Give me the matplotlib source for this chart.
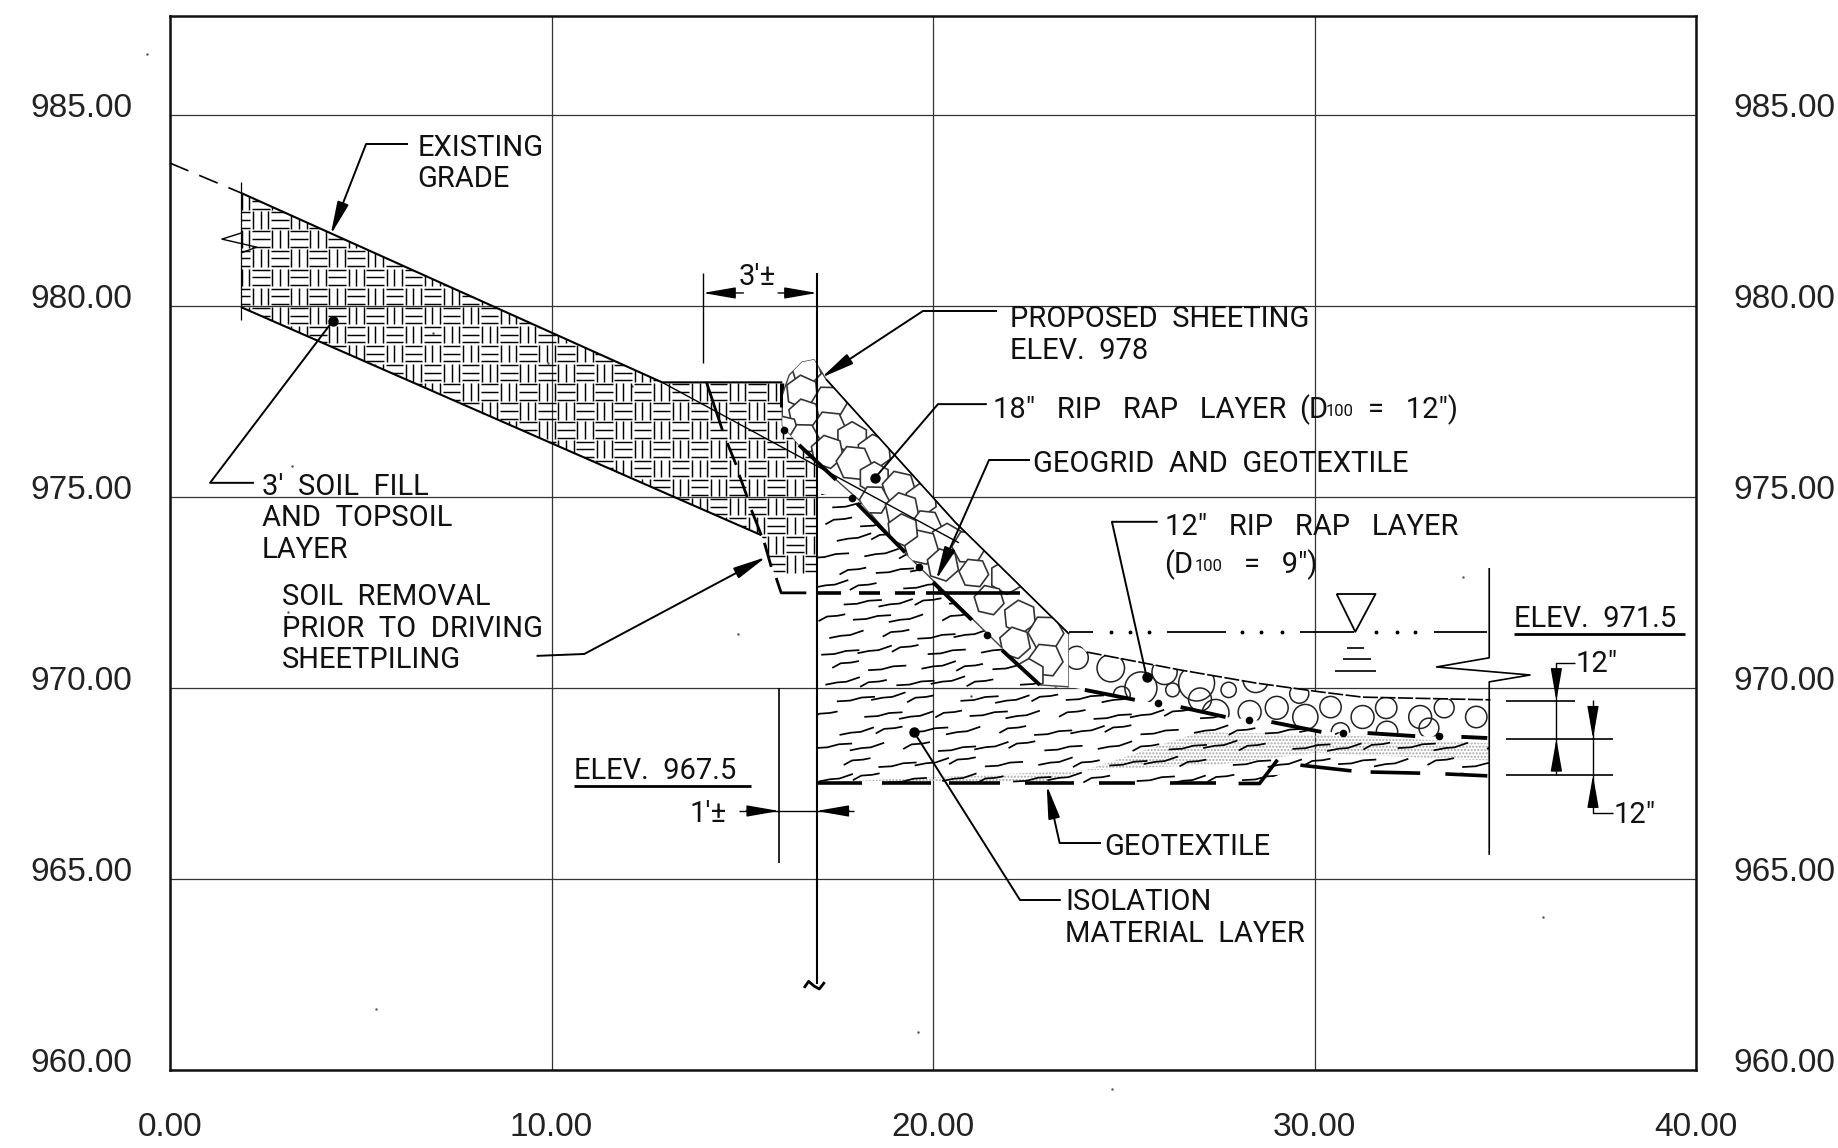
import matplotlib
matplotlib.use("Agg")
import matplotlib.pyplot as plt
from matplotlib.collections import LineCollection
from matplotlib.patches import Circle, Polygon, RegularPolygon
from matplotlib.transforms import ScaledTranslation

x_ticks = [0, 10, 20, 30, 40]
y_ticks = [960, 965, 970, 975, 980, 985]
x_tick_labels = ["0.00", "10.00", "20.00", "30.00", "40.00"]
y_tick_labels = ["960.00", "965.00", "970.00", "975.00", "980.00", "985.00"]

# section geometry, feet / elevation
grade_dash_x = [0, 1.86]
grade_dash_y = [983.74, 982.96]
grade_x = [1.86, 12.9, 16.05]
grade_y = [982.96, 978.0, 978.0]
grade_under_x = [12.9, 20.68]
grade_under_y = [978.0, 973.8]
fill_base_x = [1.86, 15.5]
fill_base_y = [979.97, 974.0]
fill_x = [1.86, 12.9, 16.96, 16.96, 16.0, 15.58, 15.5, 1.86]
fill_y = [982.96, 978.0, 978.0, 972.5, 972.5, 973.8, 974.0, 979.97]
break_left_x = [1.87, 1.36, 2.27, 1.87]
break_left_y = [981.91, 981.75, 981.54, 981.39]
fill_edge_x = [1.86, 1.86]
fill_edge_y = [983.25, 979.63]
stub_x = [16.02, 16.02]
stub_y = [977.98, 977.36]

removal_dashes = [
    ([14.06, 14.48], [978.01, 976.75]),
    ([14.61, 14.84], [976.41, 975.84]),
    ([14.92, 15.13], [975.58, 975.0]),
    ([15.24, 15.50], [974.66, 974.0]),
    ([15.58, 15.76], [973.80, 973.17]),
    ([15.89, 16.02, 16.68], [972.88, 972.49, 972.49]),
]

rock18_x = [17.2, 20.6, 23.56, 23.56, 22.80, 19.19, 18.06, 17.46, 16.49, 16.05, 16.05, 16.23, 16.57, 16.88]
rock18_y = [978.08, 974.32, 971.42, 970.03, 970.08, 973.61, 974.92, 975.45, 976.36, 976.88, 977.67, 978.19, 978.53, 978.59]
rock18_cx = [16.68, 16.57, 17.28, 16.62, 17.28, 17.88, 16.10, 18.46, 16.62, 17.23, 17.93, 18.46, 19.11, 19.69,
             18.46, 19.19, 19.82, 20.37, 19.69, 19.21, 20.94, 20.26, 21.07, 21.94, 21.47, 22.28, 22.96, 22.15,
             22.96, 22.51]
rock18_cy = [978.32, 977.75, 977.46, 977.15, 976.81, 976.54, 976.75, 976.18, 976.54, 976.18, 975.89, 975.50,
             975.24, 974.92, 974.92, 974.66, 974.27, 973.87, 973.69, 974.14, 973.69, 973.22, 973.01, 972.91,
             972.30, 971.86, 971.44, 971.18, 970.73, 970.34]
rock18_r = [0.40, 0.44, 0.47, 0.42, 0.45, 0.43, 0.39, 0.46]
rock18_turn = [0.3, 0.1, 0.5, 0.2, 0.42, 0.0]
rock18_dashes = [
    ([16.49, 17.46], [976.36, 975.45]),
    ([18.01, 19.27], [974.83, 973.55]),
    ([20.0, 21.02], [972.77, 971.78]),
    ([21.81, 22.80], [970.99, 970.08]),
]

rock12_top_x = [23.56, 24.03, 26.49, 28.46, 30.13, 31.26, 34.61]
rock12_top_y = [971.42, 970.94, 970.47, 970.13, 969.90, 969.76, 969.69]
rock12_low_x = [34.58, 33.85, 32.64, 31.39, 30.18, 28.87, 27.67, 26.49, 25.29, 23.98, 23.56]
rock12_low_y = [968.69, 968.72, 968.74, 968.82, 968.85, 969.11, 969.24, 969.50, 969.69, 969.95, 970.03]
rock12_dashes = [
    ([23.98, 25.29], [969.95, 969.69]),
    ([26.49, 27.67], [969.50, 969.24]),
    ([28.87, 30.18], [969.11, 968.85]),
    ([31.39, 32.64], [968.82, 968.74]),
    ([33.85, 34.53], [968.72, 968.69]),
]
cobble_x = [23.77, 24.66, 25.45, 26.07, 26.28, 26.91, 27.75, 28.46, 28.30, 27.41, 29.01, 29.76, 30.42, 31.26,
            31.88, 32.77, 33.40, 34.24, 24.95, 30.68, 27.0, 29.6, 31.9, 33.0]
cobble_y = [970.79, 970.52, 970.00, 970.42, 969.95, 970.13, 969.95, 970.21, 969.37, 969.35, 969.48, 969.24,
            969.50, 969.24, 969.48, 969.24, 969.48, 969.24, 969.82, 968.85, 969.7, 969.85, 968.85, 968.95]
cobble_r = [.3, .36, .42, .33, .18, .47, .2, .33, .3, .35, .3, .33, .28, .3, .28, .3, .26, .28, .22, .24,
            .3, .25, .28, .26]

iso_x = [16.96, 18.06, 19.19, 22.80, 23.98, 26.49, 28.87, 31.39, 34.58, 34.58, 29.63, 28.56, 16.96]
iso_y = [975.1, 974.92, 973.61, 970.08, 969.95, 969.50, 969.11, 968.82, 968.69, 967.70, 967.98, 967.5, 967.5]
sand_x = [27.0, 31.0, 34.58, 34.58, 30.0, 27.5, 17.5, 23.0, 24.0]
sand_y = [968.85, 968.75, 968.55, 968.1, 968.3, 968.0, 967.55, 967.55, 967.85]

geotex_low = [
    ([16.94, 18.14], [967.5, 967.5]),
    ([18.66, 19.95], [967.5, 967.5]),
    ([20.42, 21.75], [967.5, 967.5]),
    ([22.41, 23.69], [967.5, 967.5]),
    ([24.35, 25.29], [967.5, 967.5]),
    ([26.2, 27.41], [967.5, 967.5]),
    ([28.01, 28.56, 29.03], [967.5, 967.5, 968.12]),
    ([29.63, 30.97], [967.98, 967.83]),
    ([31.47, 32.77], [967.80, 967.77]),
    ([33.43, 34.53], [967.75, 967.70]),
]
geotex_mid = [
    ([16.96, 17.59], [972.48, 972.48]),
    ([18.06, 18.61], [972.48, 972.48]),
    ([19.0, 19.53], [972.48, 972.48]),
    ([19.82, 22.28], [972.48, 972.48]),
]

water_y = 971.47
water_dashes = [(23.56, 24.19), (26.13, 27.67), (29.63, 31.04), (33.14, 34.53)]
water_dots = [24.66, 25.16, 25.65, 28.09, 28.59, 29.14, 31.6, 32.15, 32.64]
tri_x = [30.58, 31.60, 31.07, 30.58]
tri_y = [972.46, 972.46, 971.47, 972.46]
water_marks = [(30.84, 31.31, 971.05), (30.76, 31.47, 970.76), (30.55, 31.60, 970.45)]

break_x = [34.58, 34.58, 33.2, 35.65, 34.58, 34.58]
break_y = [973.14, 970.79, 970.55, 970.34, 970.16, 965.63]

sheet_x = [16.96, 16.96]
sheet_y = [980.86, 962.25]
tilde_x = [16.62, 16.74, 16.88, 17.02, 17.16]
tilde_y = [962.15, 962.32, 962.2, 962.12, 962.3]

dots_x = [16.10, 17.88, 19.63, 21.41, 25.89, 28.27, 30.76, 33.27]
dots_y = [976.75, 974.97, 973.17, 971.39, 969.61, 969.16, 968.82, 968.74]

# leaders: (x list, y list), last point is where they land
leader_arrows = [
    ([6.23, 5.14, 4.21], [984.24, 984.24, 981.86]),
    ([9.61, 10.86, 15.63], [970.84, 970.89, 973.43]),
    ([21.68, 19.74, 17.07], [979.87, 979.87, 978.12]),
    ([22.54, 21.47, 20.08], [975.97, 975.97, 972.83]),
    ([24.40, 23.32, 22.98], [965.94, 965.94, 967.46]),
]
leader_dots = [
    ([2.20, 1.05, 4.27], [975.37, 975.37, 979.61]),
    ([21.41, 20.13, 18.48], [977.43, 977.43, 975.50]),
    ([25.89, 24.69, 25.60], [974.35, 974.35, 970.29]),
    ([23.35, 22.28, 19.50], [964.45, 964.45, 968.85]),
]

notes = [
    (6.49, 984.19, "EXISTING"),
    (6.49, 983.38, "GRADE"),
    (2.41, 975.31, "3'  SOIL  FILL"),
    (2.41, 974.50, "AND  TOPSOIL"),
    (2.41, 973.66, "LAYER"),
    (2.93, 972.43, "SOIL  REMOVAL"),
    (2.93, 971.60, "PRIOR  TO  DRIVING"),
    (2.93, 970.79, "SHEETPILING"),
    (22.02, 979.71, "PROPOSED  SHEETING"),
    (22.02, 978.87, "ELEV.  978"),
    (21.56, 977.33, '18"   RIP   RAP   LAYER'),
    (29.6, 977.33, "(D"),
    (31.4, 977.33, '=   12")'),
    (22.62, 975.92, "GEOGRID  AND  GEOTEXTILE"),
    (26.07, 974.27, '12"   RIP   RAP   LAYER'),
    (26.07, 973.27, "(D"),
    (28.15, 973.27, '=   9")'),
    (24.48, 965.89, "GEOTEXTILE"),
    (23.46, 964.45, "ISOLATION"),
    (23.46, 963.61, "MATERIAL  LAYER"),
    (35.24, 971.86, "ELEV.  971.5"),
    (10.60, 967.88, "ELEV.  967.5"),
    (36.83, 970.68, '12"'),
    (37.83, 966.73, '12"'),
    (13.61, 966.75, "1'±"),
    (14.9, 980.8, "3'±"),
]
small_notes = [(30.3, 977.28, "100"), (26.85, 973.22, "100")]
underlines = [(35.24, 39.71, 971.41), (10.60, 15.24, 967.43)]

specks_x = [-0.6, 3.2, 6.9, 8.2, 12.1, 14.9, 19.6, 24.7, 26.6, 33.9, 36.0, 9.9, 21.0, 3.1, 5.4]
specks_y = [986.6, 975.8, 979.3, 977.2, 977.9, 971.4, 961.0, 959.5, 979.9, 972.9, 964.0, 978.5, 969.8, 972.0, 961.6]

plt.rcParams["font.family"] = ["Liberation Sans", "DejaVu Sans"]
fig = plt.figure(figsize=(18.38, 11.48), dpi=100)
ax = fig.add_axes([170 / 1838, 78 / 1148, 1526 / 1838, 1054 / 1148])
ax.set_xlim(0, 40)
ax.set_ylim(960, 987.59)

ax.set_xticks(x_ticks)
ax.set_xticklabels(x_tick_labels)
ax.set_yticks(y_ticks)
ax.set_yticklabels(y_tick_labels)
ax.tick_params(length=0, labelsize=24, labelcolor="#222222", labelright=True)
ax.tick_params(axis="y", pad=27)
ax.tick_params(axis="x", pad=30)
ax.grid(True, color="#333333", lw=0.9, zorder=0.5)
ax.set_axisbelow(True)
for s in ax.spines.values():
    s.set_linewidth(1.8)
    s.set_color("#111111")

# the y labels sit a little above their grid line
up = ScaledTranslation(0, 10 / 100, fig.dpi_scale_trans)
for t in ax.yaxis.get_major_ticks():
    t.label1.set_transform(t.label1.get_transform() + up)
    t.label2.set_transform(t.label2.get_transform() + up)


def line(xs, ys, lw=1.1, color="black", z=5, **kw):
    ax.plot(xs, ys, color=color, lw=lw, zorder=z, solid_capstyle="butt", clip_on=False, **kw)


def arrow(tip, tail, lw=1.0):
    ax.annotate("", xy=tip, xytext=tail, zorder=6,
                arrowprops=dict(arrowstyle="-|>,head_length=0.92,head_width=0.16", shrinkA=0, shrinkB=0,
                                lw=lw, color="black", mutation_scale=22))


# basket weave of the soil fill
fill_patch = Polygon(list(zip(fill_x, fill_y)), closed=True, fc="none", ec="none", transform=ax.transData)
ax.add_patch(fill_patch)
segs = []
for i in range(0, 40):
    for j in range(1946, 1972):
        x0 = 0.13 + i * 0.5
        y0 = j * 0.5
        for off in (0.05, 0.25, 0.45):
            if (i + j) % 2 == 0:
                segs.append([(x0 + off, y0 + 0.02), (x0 + off, y0 + 0.48)])
            else:
                segs.append([(x0 + 0.02, y0 + off), (x0 + 0.48, y0 + off)])
weave = LineCollection(segs, colors="black", linewidths=1.05, zorder=2)
ax.add_collection(weave)
weave.set_clip_path(fill_patch)

# isolation material strokes
iso_patch = Polygon(list(zip(iso_x, iso_y)), closed=True, fc="none", ec="none", transform=ax.transData)
ax.add_patch(iso_patch)
shapes = [
    [(0, 0), (0.3, 0.06), (0.55, 0.08), (0.9, 0.2)],
    [(0, 0), (0.22, 0.12), (0.5, 0.14), (0.7, 0.18)],
    [(0, 0), (0.35, 0.02), (0.65, 0.1), (1.0, 0.12)],
]
nudge = [0.0, 0.18, -0.12, 0.07, -0.2]
strokes = []
for r in range(0, 19):
    for c in range(0, 20):
        sx = 17.0 + c * 1.02 + (r % 2) * 0.48 + nudge[(r + 2 * c) % 5]
        sy = 967.55 + r * 0.42 + nudge[(3 * r + c) % 5] * 0.2
        shape = shapes[(r + c) % 3]
        strokes.append([(sx + a, sy + b) for a, b in shape])
iso = LineCollection(strokes, colors="black", linewidths=1.25, zorder=2)
ax.add_collection(iso)
iso.set_clip_path(iso_patch)
sand = Polygon(list(zip(sand_x, sand_y)), closed=True, fill=False, hatch=".....", ec="#a8a8a8", lw=0, zorder=1.5)
ax.add_patch(sand)

# 18 inch rip rap
rock18 = Polygon(list(zip(rock18_x, rock18_y)), closed=True, fc="white", ec="#444444", lw=1.0, zorder=3)
ax.add_patch(rock18)
for n, (cx, cy) in enumerate(zip(rock18_cx, rock18_cy)):
    p = RegularPolygon((cx, cy), 6, radius=rock18_r[n % len(rock18_r)], orientation=rock18_turn[n % len(rock18_turn)],
                       fc="white", ec="#333333", lw=1.2, joinstyle="round", zorder=3.5)
    ax.add_patch(p)
    p.set_clip_path(rock18)
line(rock18_x[:3], rock18_y[:3], lw=1.2)

# 12 inch rip rap
rock12 = Polygon(list(zip(rock12_top_x + rock12_low_x, rock12_top_y + rock12_low_y)), closed=True,
                 fc="white", ec="none", zorder=3)
ax.add_patch(rock12)
for cx, cy, cr in zip(cobble_x, cobble_y, cobble_r):
    c = Circle((cx, cy), cr, fc="none", ec="#222222", lw=1.1, zorder=3.5)
    ax.add_patch(c)
    c.set_clip_path(rock12)
line(rock12_top_x[1:], rock12_top_y[1:], lw=1.2, ls=(0, (9, 1.5)))

# grade, fill edges
line(grade_dash_x, grade_dash_y, lw=1.2, ls=(0, (12, 7)))
line(grade_x, grade_y, lw=1.5)
line(grade_under_x, grade_under_y, lw=1.0)
line(fill_base_x, fill_base_y, lw=1.5)
line(fill_edge_x, fill_edge_y, lw=0.9)
line(break_left_x, break_left_y, lw=1.0)
line(stub_x, stub_y, lw=2.2)

for xs, ys in removal_dashes:
    line(xs, ys, lw=2.0)
for xs, ys in rock18_dashes + rock12_dashes:
    line(xs, ys, lw=2.8)
for xs, ys in geotex_low + geotex_mid:
    line(xs, ys, lw=2.6)

# water surface
for a, b in water_dashes:
    line([a, b], [water_y, water_y], lw=1.3)
ax.plot(water_dots, [water_y] * len(water_dots), ls="none", marker="o", ms=1.8, color="black", zorder=5)
line(tri_x, tri_y, lw=1.3)
for a, b, yy in water_marks:
    line([a, b], [yy, yy], lw=1.2)

line(break_x, break_y, lw=1.2)
line(sheet_x, sheet_y, lw=1.5)
line(tilde_x, tilde_y, lw=2.0)

ax.plot(dots_x, dots_y, ls="none", marker="o", ms=4.5, color="black", zorder=6)

for xs, ys in leader_arrows:
    line(xs[:-1], ys[:-1], lw=1.4)
    arrow((xs[-1], ys[-1]), (xs[-2], ys[-2]), lw=1.4)
for xs, ys in leader_dots:
    line(xs, ys, lw=1.4)
    ax.plot(xs[-1], ys[-1], ls="none", marker="o", ms=6.5, color="black", zorder=6)

# dimensions
line([13.97, 13.97], [980.86, 978.5], lw=1.0)
arrow((13.97, 980.34), (15.03, 980.34))
arrow((16.96, 980.34), (15.94, 980.34))
line([15.97, 15.97], [970.0, 965.42], lw=1.2)
line([14.92, 17.93], [966.78, 966.78], lw=1.0)
arrow((15.97, 966.78), (15.1, 966.78), lw=1.0)
arrow((16.94, 966.78), (17.8, 966.78), lw=1.0)

line([35.03, 36.83], [969.66, 969.66], lw=1.2)
line([35.03, 37.83], [968.67, 968.67], lw=1.2)
line([35.03, 37.83], [967.72, 967.72], lw=1.2)
line([36.83, 36.34, 36.34], [970.65, 970.65, 967.72], lw=1.0)
arrow((36.34, 969.66), (36.34, 970.45))
arrow((36.34, 968.67), (36.34, 967.9))
line([37.3, 37.3, 37.83], [969.68, 966.73, 966.73], lw=1.0)
arrow((37.3, 968.67), (37.3, 969.45))
arrow((37.3, 967.72), (37.3, 966.95))

for a, b, yy in underlines:
    line([a, b], [yy, yy], lw=2.0)

for nx, ny, txt in notes:
    ax.text(nx, ny - 0.05, txt, family=["Roboto", "Liberation Sans"], fontsize=21, color="#111111",
            ha="left", va="center", zorder=7)
for nx, ny, txt in small_notes:
    ax.text(nx, ny - 0.05, txt, family=["Roboto", "Liberation Sans"], fontsize=12, color="#111111",
            ha="left", va="center", zorder=7)

ax.plot(specks_x, specks_y, ls="none", marker=".", ms=1.5, color="#555555", clip_on=False, zorder=1)

fig.savefig("out.png", dpi=100)
